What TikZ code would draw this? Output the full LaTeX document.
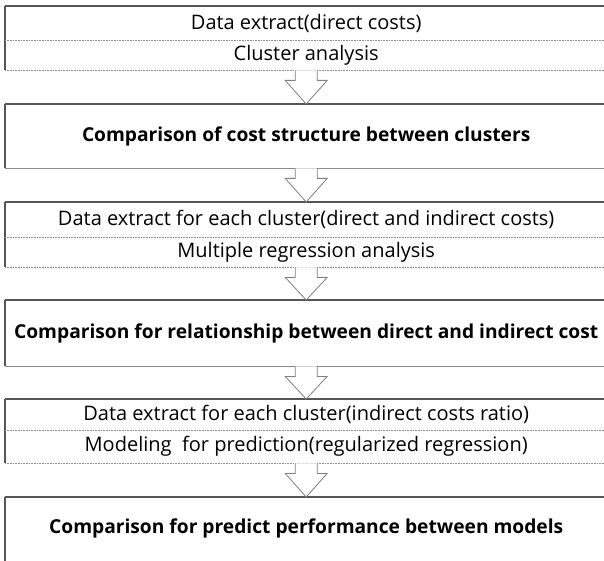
\documentclass[tikz,border=0pt]{standalone}
\usepackage{fontspec}
\setmainfont{Open Sans}
\usetikzlibrary{calc}

\definecolor{edgedark}{HTML}{555555}
\definecolor{edgegray}{HTML}{8A8A8A}
\definecolor{arrowgray}{HTML}{7F7F7F}

\tikzset{
  cell/.style={anchor=north west, minimum width=602pt, inner sep=0pt,
    font=\fontsize{20}{23}\selectfont},
  boldcell/.style={cell, font=\fontsize{19.2}{23}\selectfont\bfseries},
  topedge/.style={draw=edgedark, line width=1.3pt},
  sideedge/.style={draw=edgedark, line width=1.1pt},
  divider/.style={draw=edgegray, line width=1pt, dash pattern=on 1pt off 0.6pt},
  solidbottom/.style={draw=edgegray, line width=1.5pt},
  blockarrow/.style={draw=arrowgray, fill=white, line width=0.8pt, line join=miter}
}

\newcommand\flowarrow[2]{%
  \draw[blockarrow] ($(#1.south)+(-11,0)$) -- ++(0,10) -- ++(-10,0)
    -- (#2.north) -- ($(#1.south)+(21,10)$) -- ++(-10,0) -- ++(0,-10);}

\begin{document}
\begin{tikzpicture}[x=1pt,y=-1pt]
  \useasboundingbox (0,0) rectangle (604,561);
  \clip (0,0) rectangle (604,561);

  % stage 1: extraction and clustering
  \node[cell, minimum height=34pt] (s1a) at (5,6) {Data extract(direct costs)};
  \node[cell, minimum height=30pt] (s1b) at (5,40) {Cluster analysis};
  % stage 2
  \node[boldcell, minimum height=64pt] (s2) at (5,104) {Comparison of cost structure between clusters};
  % stage 3
  \node[cell, minimum height=35pt] (s3a) at (5,202) {Data extract for each cluster(direct and indirect costs)};
  \node[cell, minimum height=30pt] (s3b) at (5,237) {Multiple regression analysis};
  % stage 4
  \node[boldcell, minimum height=66pt] (s4) at (5,300) {Comparison for relationship between direct and indirect cost};
  % stage 5
  \node[cell, minimum height=31pt] (s5a) at (5,399) {Data extract for each cluster(indirect costs ratio)};
  \node[cell, minimum height=33pt] (s5b) at (5,430) {Modeling\ \ for prediction(regularized regression)};
  % stage 6
  \node[boldcell, minimum height=62pt] (s6) at (5,497) {Comparison for predict performance between models};

  % frames of the two-line boxes
  \foreach \u/\l in {s1a/s1b, s3a/s3b, s5a/s5b}{
    \draw[sideedge] (\u.north west) -- (\l.south west);
    \draw[topedge] (\u.north west) -- (\u.north east);
    \draw[divider] (\u.south west) -- (\u.south east);
    \draw[divider] (\l.south west) -- (\l.south east);
  }
  % frames of the single boxes
  \foreach \b in {s2, s4}{
    \draw[sideedge] (\b.north west) -- (\b.south west);
    \draw[topedge] (\b.north west) -- (\b.north east);
    \draw[solidbottom] (\b.south west) -- (\b.south east);
  }
  \draw[sideedge] (s6.north west) -- ++(0,70);
  \draw[topedge] (s6.north west) -- (s6.north east);

  % block arrows between stages
  \flowarrow{s1b}{s2}
  \flowarrow{s2}{s3a}
  \flowarrow{s3b}{s4}
  \flowarrow{s4}{s5a}
  \flowarrow{s5b}{s6}
\end{tikzpicture}
\end{document}
